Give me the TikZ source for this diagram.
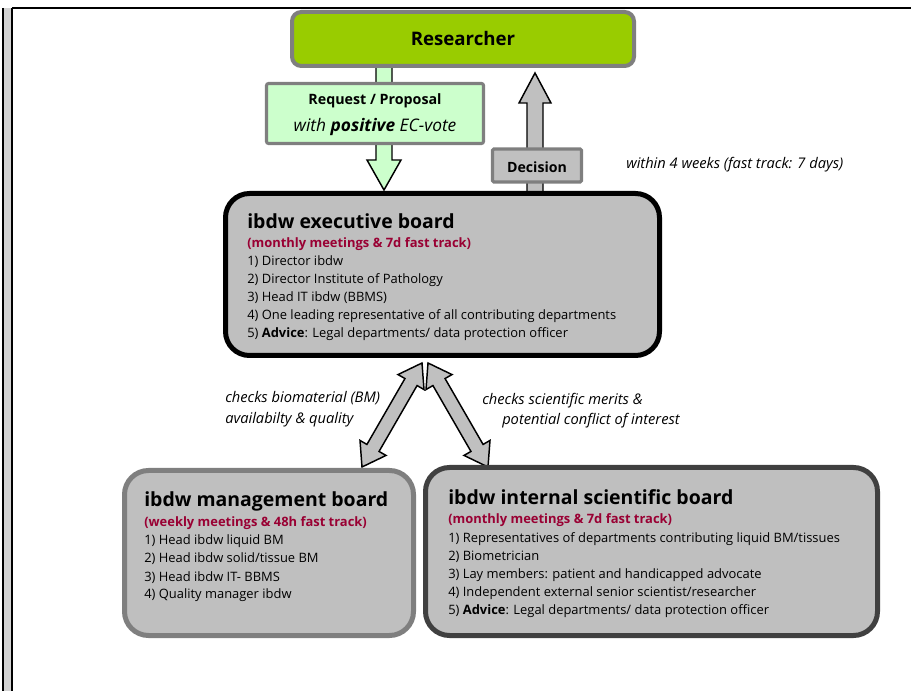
\documentclass[tikz,border=0pt]{standalone}
\usepackage{fontspec}
\setmainfont{Open Sans}
\usepackage{tikz}
\usetikzlibrary{%
    calc,
    math
}
\definecolor{RScolor}{HTML}{99CC00}
\definecolor{REQcolor}{HTML}{CCFFCC}
\definecolor{BOARDcolor}{HTML}{BFBFBF}
\definecolor{ARRcolor}{HTML}{C0C0C0}
\definecolor{EDGEcolor}{HTML}{7F7F7F}
\definecolor{SUBcolor}{HTML}{990033}

\newcommand{\pxu}{0.75pt}
% 双向箭头, 像素坐标 (#1,#2) -> (#3,#4)
\newcommand{\dblblock}[4]{%
    \tikzmath{\aang=atan2(#2-#4,#3-#1); \alen=veclen(#3-#1,#4-#2);}
    \draw [blockarrow, fill=ARRcolor, shift={(#1,#2)}, rotate=\aang]
    (0,0) -- (22,15) -- (22,7) -- (\alen-22,7) -- (\alen-22,15) -- (\alen,0)
    -- (\alen-22,-15) -- (\alen-22,-7) -- (22,-7) -- (22,-15) -- cycle;
}

\tikzset{
    blockarrow/.style={draw=black, line width=1.1pt, line join=miter},
    board/.style={draw, fill=BOARDcolor, line width=3.75pt, rounded corners=18pt, inner sep=0pt},
    label/.style={inner sep=0pt, font=\fontsize{9.5}{12}\selectfont},
    title/.style={anchor=base west, inner sep=0pt, font=\fontsize{14.6}{17}\selectfont\bfseries},
    subtitle/.style={anchor=base west, inner sep=0pt, text=SUBcolor, font=\fontsize{9.7}{12}\selectfont\bfseries},
    item/.style={anchor=base west, inner sep=0pt, font=\fontsize{9.7}{12}\selectfont},
    note/.style={anchor=base west, inner sep=0pt, font=\fontsize{11}{13}\selectfont\itshape}
}

\begin{document}
\begin{tikzpicture}[x=\pxu, y=-\pxu]
    \useasboundingbox (0,0) rectangle (911,691);

    % 屏幕边框
    \fill [ARRcolor!70] (3,8) rectangle (12,691);
    \draw [line width=0.8pt] (3,8) -- (3,691) (12,8) -- (12,691) (12,8) -- (911,8);

    % 箭头
    \draw [blockarrow, fill=REQcolor] (376,60) -- (376,160) -- (367,160) -- (384,190) -- (401,160) -- (392,160) -- (392,60) -- cycle;
    \draw [blockarrow, fill=ARRcolor] (527,195) -- (527,103) -- (519,103) -- (535,73) -- (551,103) -- (543,103) -- (543,195) -- cycle;
    \dblblock{362}{467}{422}{363}
    \dblblock{488}{467}{428}{363}

    % Researcher
    \node (researcher) [draw=EDGEcolor, fill=RScolor, line width=3pt, rounded corners=7pt,
        minimum width=342*\pxu, minimum height=54*\pxu, font=\fontsize{14}{17}\selectfont\bfseries]
        at (463,39) {Researcher};

    % 请求
    \node (request) [draw=EDGEcolor, fill=REQcolor, line width=2.3pt, rounded corners=1.5pt,
        minimum width=217*\pxu, minimum height=60*\pxu] at (375,113.5) {};
    \node (request-l1) [label, anchor=base, font=\fontsize{10.7}{13}\selectfont\bfseries] at (375,105) {Request / Proposal};
    \node (request-l2) [label, anchor=base, font=\fontsize{13}{15}\selectfont\itshape] at (375,132) {with \textbf{positive} EC-vote};

    % 决定
    \node (decision) [draw=EDGEcolor, fill=ARRcolor, line width=2.3pt, rounded corners=1pt,
        minimum width=89*\pxu, minimum height=33*\pxu] at (537,165.5) {};
    \node (decision-l) [label, anchor=base, font=\fontsize{10.6}{13}\selectfont\bfseries] at (537,173) {Decision};
    \node (within) [note] at (626,169) {within 4 weeks (fast track: 7 days)};

    % executive board
    \node (exec) [board, draw=black, minimum width=434*\pxu, minimum height=162*\pxu] at (442.5,274.5) {};
    \node (exec-title) [title] at (247,229) {ibdw executive board};
    \node (exec-sub) [subtitle] at (247,248) {(monthly meetings \& 7d fast track)};
    \foreach \t [count=\i] in {Director ibdw, Director Institute of Pathology, Head IT ibdw (BBMS),
        One leading representative of all contributing departments,
        \textbf{Advice}: Legal departments/ data protection officer} {%
            \node (exec-\i) [item] at (247, {266+18*(\i-1)}) {\i) \t};
        }

    % 中间说明
    \node (bm-l1) [note] at (225,403) {checks biomaterial (BM)};
    \node (bm-l2) [note] at (225,424) {availabilty \& quality};
    \node (sci-l1) [note] at (482,405) {checks scientific merits \&};
    \node (sci-l2) [note] at (502,425) {potential conflict of interest};

    % management board
    \node (mgmt) [board, draw=EDGEcolor, minimum width=289*\pxu, minimum height=165*\pxu] at (269,553) {};
    \node (mgmt-title) [title] at (144,507) {ibdw management board};
    \node (mgmt-sub) [subtitle] at (144,527) {(weekly meetings \& 48h fast track)};
    \foreach \t [count=\i] in {Head ibdw liquid BM, Head ibdw solid/tissue BM, Head ibdw IT- BBMS, Quality manager ibdw} {%
            \node (mgmt-\i) [item] at (144, {545+18*(\i-1)}) {\i) \t};
        }

    % internal scientific board
    \node (sci) [board, draw=black!75, minimum width=452*\pxu, minimum height=168*\pxu] at (651.5,551.5) {};
    \node (sci-title) [title] at (448,505) {ibdw internal scientific board};
    \node (sci-sub) [subtitle] at (448,524) {(monthly meetings \& 7d fast track)};
    \foreach \t [count=\i] in {Representatives of departments contributing liquid BM/tissues, Biometrician,
        Lay members: patient and handicapped advocate, Independent external senior scientist/researcher,
        \textbf{Advice}: Legal departments/ data protection officer} {%
            \node (sci-\i) [item] at (448, {543+17.8*(\i-1)}) {\i) \t};
        }
\end{tikzpicture}
\end{document}
